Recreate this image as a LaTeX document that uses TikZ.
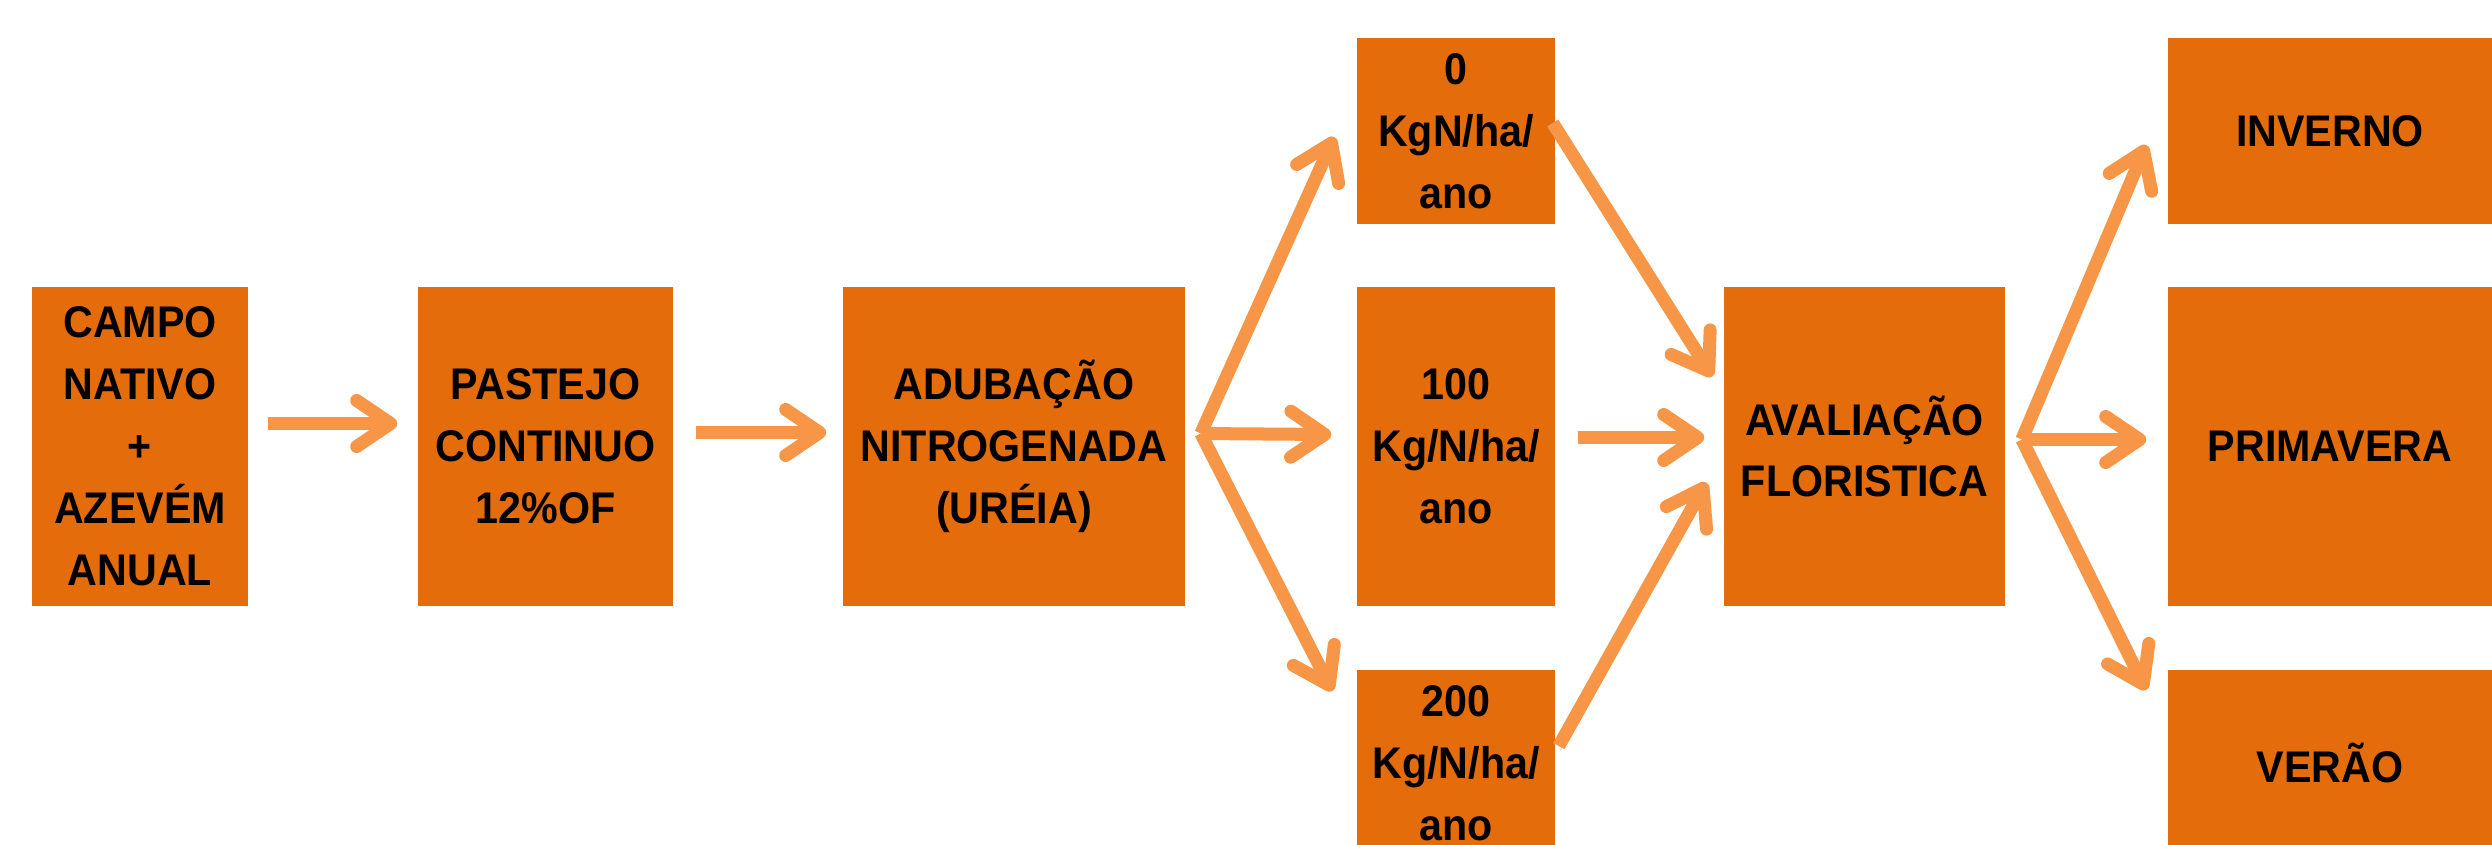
\documentclass[tikz,border=0pt]{standalone}
\usepackage{fontspec}
\setmainfont{Liberation Sans}[FakeStretch=0.93]
\usetikzlibrary{arrows.meta}
\definecolor{boxorange}{RGB}{228,108,10}
\definecolor{arroworange}{RGB}{247,150,70}
\definecolor{shadowgray}{RGB}{120,130,150}
\begin{document}
\begin{tikzpicture}[x=0.01cm,y=-0.01cm,
  box/.style={fill=boxorange, draw=none, inner sep=0pt, align=center,
    font=\fontsize{12.6pt}{17.6pt}\selectfont\bfseries, text=black},
  tall/.style={minimum height=3.19cm},
  short/.style={minimum height=1.86cm},
  arr/.style={draw=arroworange, line width=0.13cm,
    -{Straight Barb[length=0.34cm,width=0.46cm,round]},
    preaction={draw=shadowgray, opacity=0.22,
      transform canvas={shift={(0.015cm,-0.045cm)}}}},
]
\useasboundingbox (0,0) rectangle (2492,844);
\fill[white] (0,0) rectangle (2492,844);
\clip (0,0) rectangle (2492,844);

\node[box, tall, minimum width=2.16cm] (campo) at (140,446.5) {CAMPO\\NATIVO\\+\\AZEVÉM\\ANUAL};
\node[box, tall, minimum width=2.55cm] (pastejo) at (545.5,446.5) {PASTEJO\\CONTINUO\\12\%OF};
\node[box, tall, minimum width=3.42cm] (adub) at (1014,446.5) {ADUBAÇÃO\\NITROGENADA\\(URÉIA)};
\node[box, short, minimum width=1.98cm] (n0) at (1456,131) {0\\KgN/ha/\\ano};
\node[box, tall, minimum width=1.98cm] (n100) at (1456,446.5) {100\\Kg/N/ha/\\ano};
\node[box, short, minimum width=1.98cm] (n200) at (1456,763) {200\\Kg/N/ha/\\ano};
\node[box, tall, minimum width=2.81cm] (aval) at (1864.5,446.5) {AVALIAÇÃO\\FLORISTICA};
\node[box, short, minimum width=3.24cm] (inv) at (2330,131) {INVERNO};
\node[box, tall, minimum width=3.24cm] (prim) at (2330,446.5) {PRIMAVERA};
\node[box, short, minimum width=3.24cm] (ver) at (2330,763) {VERÃO};

\draw[arr] ([shift={(19,-23)}]campo.east) -- ([shift={(-20,-23)}]pastejo.west);
\draw[arr] ([shift={(22,-14)}]pastejo.east) -- ([shift={(-16,-14)}]adub.west);

\coordinate (f1) at ([shift={(15,-13)}]adub.east);
\draw[arr] (f1) -- ([shift={(-22,6)}]n0.west);
\draw[arr] (f1) -- ([shift={(-25,-12)}]n100.west);
\draw[arr] (f1) -- ([shift={(-24,-72)}]n200.west);

\draw[arr] ([shift={(-3,-8)}]n0.east) -- ([shift={(-11,-70)}]aval.west);
\draw[arr] ([shift={(22,-9)}]n100.east) -- ([shift={(-19,-9)}]aval.west);
\draw[arr] ([shift={(3,-17)}]n200.east) -- ([shift={(-17,36)}]aval.west);

\coordinate (f2) at ([shift={(16,-7)}]aval.east);
\draw[arr] (f2) -- ([shift={(-21,14)}]inv.west);
\draw[arr] (f2) -- ([shift={(-21,-7)}]prim.west);
\draw[arr] (f2) -- ([shift={(-21,-73)}]ver.west);
\end{tikzpicture}
\end{document}
